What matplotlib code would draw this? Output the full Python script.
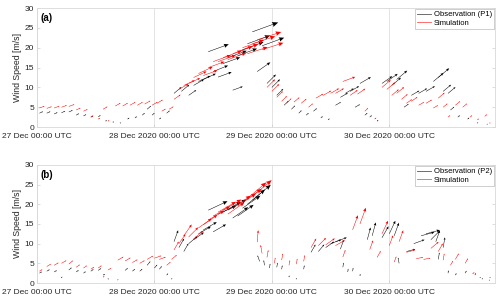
import numpy as np
import matplotlib.pyplot as plt
from matplotlib.lines import Line2D

plt.rcParams['font.family'] = ['Liberation Sans', 'DejaVu Sans']

# hours after 27 Dec 2020 00:00 UTC, speed [m/s], arrow direction [deg, counter-clockwise from east]
a_obs_t = [0.5, 2, 3.5, 5, 6.5, 8, 9.5, 11, 12.5, 14, 15.5, 17, 18.5, 20, 21.5, 22.5, 23.5, 25, 26.5,
           28, 29.5, 31, 32, 33, 34, 35, 36, 37, 38, 39, 40, 41, 42, 43, 44, 45, 46, 47, 48, 49, 50.5,
           52, 53.5, 55, 56.5, 58, 59.5, 61, 62, 63, 64, 65, 66, 67, 68, 69.5, 70.5, 71.5, 72.5, 73.5,
           75, 76.5, 78, 79.5, 81, 82, 83, 84, 84.5, 86, 88, 90, 92]
a_obs_s = [3.5, 3.5, 3.3, 3.6, 3.8, 3.0, 2.8, 2.5, 2.6, 1.5, 1.2, 1.0, 2.0, 2.3, 3.0, 4.5, 3.0, 2.0, 3.5,
           8.5, 9.0, 8.0, 10.5, 11.5, 12.0, 19.0, 14.0, 12.6, 16.0, 17.5, 9.3, 18.0, 19.5, 21.0, 24.0, 14.0,
           20.5, 11.0, 10.0, 8.0, 5.5, 4.5, 3.5, 3.0, 4.0, 2.3, 1.8, 5.5, 7.5, 8.5, 9.0, 5.0, 11.0, 3.0,
           2.5, 1.5, 11.0, 11.5, 10.5, 12.0, 5.0, 8.0, 8.5, 9.0, 11.5, 12.5, 9.0, 8.5, 4.3, 2.5, 2.0, 1.0, 0.7]
a_obs_d = [25, 25, 25, 25, 25, 30, 30, 30, 30, 30, 30, 30, 35, 35, 40, 40, 40, 40, 40,
           40, 40, 35, 30, 25, 25, 20, 22, 20, 20, 20, 20, 20, 20, 20, 20, 35, 20, 45, 45, 45, 45,
           45, 45, 40, 40, 40, 45, 30, 30, 30, 30, 30, 30, 40, 40, 40, 35, 35, 40, 40,
           35, 30, 30, 30, 40, 40, 40, 40, 40, 40, 40, 45, 45]

a_sim_t = [0.5, 2, 3.5, 5, 6.5, 8, 9.5, 11, 12.5, 13.5, 14.5, 16, 17.5, 19, 20.5, 22, 23.5, 24.5, 25.5,
           27, 28, 29, 30, 31, 32, 33, 34, 35, 36, 37, 38, 39, 40, 41, 42, 43, 44, 45, 46, 47, 48, 49,
           50, 51, 52.5, 54, 55.5, 57, 58.5, 60, 61, 62.5, 64, 65.5, 67, 69, 70.5, 71.5, 72.5, 73.5,
           74.5, 75.5, 76.5, 78, 79.5, 81, 82, 83, 84, 85.5, 87, 88.5, 90, 91.5, 92.5]
a_sim_s = [4.8, 4.7, 4.8, 5.0, 5.2, 4.3, 4.0, 2.5, 2.0, 4.5, 1.5, 5.3, 5.3, 5.5, 5.5, 5.8, 5.5, 6.0, 4.0,
           4.5, 7.0, 9.5, 10.5, 11.0, 12.5, 13.5, 13.0, 15.0, 16.5, 16.5, 17.5, 17.0, 18.5, 19.0, 20.0,
           18.5, 21.0, 22.0, 19.5, 10.0, 9.0, 7.5, 6.5, 6.0, 6.3, 6.0, 5.0, 7.3, 8.0, 8.5, 8.5, 11.5,
           8.0, 8.3, 4.0, 2.0, 10.0, 9.5, 8.0, 8.5, 7.0, 6.0, 6.5, 5.5, 6.0, 4.8, 7.3, 5.0, 2.5, 5.5,
           5.0, 2.5, 1.8, 2.7, 1.0]
a_sim_d = [20, 20, 20, 20, 20, 25, 25, 30, 30, 30, 30, 30, 30, 30, 30, 30, 30, 30, 30,
           30, 35, 30, 25, 25, 25, 25, 20, 20, 20, 20, 20, 20, 20, 20, 20, 18, 18, 18, 18, 45, 45, 45,
           45, 45, 40, 40, 40, 30, 30, 30, 30, 20, 35, 35, 45, 40, 40, 40, 40, 40,
           40, 35, 35, 30, 30, 30, 40, 40, 40, 40, 40, 40, 40, 40, 10]

b_obs_t = [0.5, 2, 3.5, 5, 6.5, 8, 9.5, 11, 12.5, 13.5, 14.5, 16.5, 18, 19.5, 21, 22.5, 24, 25, 26.5,
           27.5, 28, 29, 30, 31, 32, 33, 34, 35, 36, 37, 38, 39, 40, 41, 42, 43, 44, 45.5, 46.5, 47.5,
           49, 50, 51.5, 53, 54.5, 56, 57.5, 59, 60, 61, 62, 62.5, 63.5, 64.5, 66, 67.5, 68.5, 70.5,
           72, 73, 74, 75.5, 77, 78.5, 79.5, 80.5, 81.5, 82, 83, 84, 85.5, 87.5, 89.5, 91, 92.5]
b_obs_s = [2.5, 3.0, 2.8, 1.3, 3.3, 2.8, 2.5, 3.0, 3.2, 2.0, 1.0, 0.8, 3.2, 3.0, 3.0, 4.5, 3.8, 3.5, 2.0,
           1.0, 10.5, 9.0, 8.0, 10.0, 11.0, 12.5, 13.5, 18.5, 13.0, 17.5, 18.0, 18.5, 16.5, 17.0, 19.0,
           20.0, 21.0, 5.5, 4.5, 3.8, 4.0, 3.5, 1.5, 1.0, 3.5, 7.8, 8.0, 9.0, 10.0, 10.5, 8.6, 4.0, 2.8,
           3.0, 1.8, 11.0, 12.0, 11.5, 12.5, 12.0, 5.0, 8.0, 10.0, 12.0, 12.5, 11.0, 10.5, 6.0, 9.0, 2.5,
           2.0, 2.5, 2.0, 1.0, 0.7]
b_obs_d = [30, 30, 30, 60, 40, 35, 35, 35, 35, 30, 30, 30, 40, 40, 40, 50, 50, 50, 50,
           50, 70, 60, 60, 40, 35, 30, 30, 25, 30, 25, 30, 30, 35, 35, 35, 40, 40, 110, 100, 80,
           80, 80, 80, 70, 80, 60, 50, 35, 20, 20, 70, 80, 80, 80, 80, 75, 75, 60,
           65, 70, 100, 15, 20, 15, 15, 45, 70, 80, 80, 80, 60, 60, 70, 70, 60]

b_sim_t = [0.5, 2, 3.5, 5, 6.5, 8, 9.5, 11, 12.5, 13.5, 14.5, 16.5, 18, 19.5, 21, 22.5, 24, 25, 26.5,
           27.5, 28, 29, 30, 31, 32, 33, 34, 35, 36, 37, 38, 39, 40, 41, 42, 43, 44, 45, 46, 47, 48.5,
           50, 51.5, 53, 54.5, 56, 57.5, 59, 61, 62.5, 64.5, 66, 68, 69.5, 70.5, 72, 73, 74, 75.5,
           77.5, 79, 80.5, 82, 83, 84.5, 85.5, 87.5, 89, 90.5, 92.5]
b_sim_s = [3.0, 4.2, 4.5, 5.0, 4.8, 4.0, 3.8, 3.5, 3.8, 1.5, 3.3, 5.8, 5.6, 5.2, 5.0, 6.0, 6.3, 6.0, 4.5,
           6.0, 8.4, 10.0, 12.0, 11.7, 11.2, 14.0, 14.8, 16.0, 17.0, 18.0, 18.5, 17.5, 19.0, 19.5, 20.5,
           21.5, 22.0, 10.4, 7.5, 6.5, 5.0, 5.8, 4.5, 4.8, 5.5, 9.0, 9.5, 9.7, 9.5, 6.6, 13.5, 15.0,
           8.5, 6.5, 12.5, 9.5, 5.3, 10.5, 7.8, 6.2, 6.0, 8.8, 8.0, 5.8, 4.5, 6.0, 5.0, 2.3, 1.3, 1.3]
b_sim_d = [30, 30, 30, 30, 40, 35, 35, 35, 35, 30, 30, 30, 30, 30, 30, 30, 20, 20, 40,
           40, 60, 55, 55, 45, 40, 35, 35, 30, 30, 30, 30, 35, 35, 35, 35, 40, 40, 85, 100, 80, 80,
           80, 80, 80, 80, 60, 45, 35, 30, 70, 70, 70, 70, 60, 65, 70, 70, 70, 15,
           10, 10, 40, 60, 80, 60, 60, 60, 40, 40, 40]

day_labels = ['27 Dec 00:00 UTC', '28 Dec 2020 00:00 UTC', '29 Dec 2020 00:00 UTC', '30 Dec 2020 00:00 UTC']
panels = [('(a)', 'Observation (P1)', a_obs_t, a_obs_s, a_obs_d, a_sim_t, a_sim_s, a_sim_d),
          ('(b)', 'Observation (P2)', b_obs_t, b_obs_s, b_obs_d, b_sim_t, b_sim_s, b_sim_d)]

PX_PER_MS = 1.15  # arrow length in pixels per m/s


def draw_arrows(ax, t, s, d, color):
    t = np.asarray(t) / 24.0
    s = np.asarray(s, float)
    d = np.radians(np.asarray(d, float))
    for ti, si, di in zip(t, s, d):
        L = si * PX_PER_MS
        hl = max(1.4, 0.22 * L)
        w = 0.5
        ax.quiver(ti, si, si * np.cos(di), si * np.sin(di), color=color,
                  angles='uv', scale_units='dots', scale=1 / PX_PER_MS, units='dots',
                  width=w, headlength=hl / w, headaxislength=0.9 * hl / w,
                  headwidth=0.85 * hl / w, minshaft=0.5, zorder=3)


fig = plt.figure(figsize=(5, 2.99), dpi=100)
rects = [[0.074, 0.575, 0.916, 0.398], [0.074, 0.0535, 0.916, 0.395]]

for rect, (tag, obs_name, ot, os_, od, st, ss, sd) in zip(rects, panels):
    ax = fig.add_axes(rect)
    draw_arrows(ax, ot, os_, od, 'k')
    draw_arrows(ax, st, ss, sd, 'r')
    ax.set_xlim(0, 3.9)
    ax.set_ylim(0, 30)
    ax.set_xticks(range(4))
    ax.set_xticklabels(day_labels)
    ax.set_yticks(range(0, 31, 5))
    ax.grid(axis='x', color='#e3e3e3', linewidth=0.7, zorder=0)
    ax.tick_params(direction='in', length=2.5, width=0.5, colors='#d0d0d0',
                   labelcolor='#262626', labelsize=6, pad=2, right=True, top=False)
    ax.tick_params(axis='x', pad=4.5)
    for sp in ax.spines.values():
        sp.set_color('#d8d8d8')
        sp.set_linewidth(0.6)
    ax.set_ylabel('Wind Speed [m/s]', fontsize=6.3, color='#262626', labelpad=2)
    ax.text(0.008, 0.955, tag, transform=ax.transAxes, fontsize=7, fontweight='bold',
            va='top', ha='left')
    handles = [Line2D([], [], color='#555555', lw=0.6), Line2D([], [], color='#ff5555', lw=0.6)]
    leg = ax.legend(handles, [obs_name, 'Simulation'], loc='upper right', fontsize=5.5,
                    handlelength=1.8, handletextpad=0.35, borderpad=0.3, labelspacing=0.15,
                    borderaxespad=0.1, fancybox=False, framealpha=1)
    leg.get_frame().set_edgecolor('#bbbbbb')
    leg.get_frame().set_linewidth(0.5)

fig.savefig('out.png', dpi=100)
